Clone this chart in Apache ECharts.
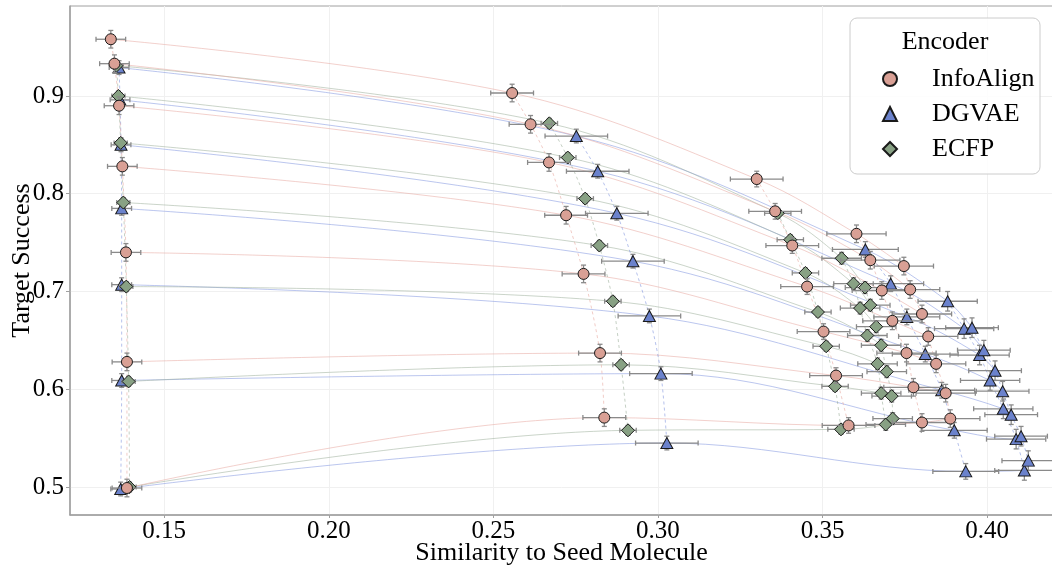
<!DOCTYPE html>
<html>
<head>
<meta charset="utf-8">
<script src="https://cdn.jsdelivr.net/npm/echarts@6/dist/echarts.min.js"></script>
<style>
  html, body { margin: 0; padding: 0; background: #fff; }
  #chart { width: 1052px; height: 567px; }
</style>
</head>
<body>
<div id="chart"></div>
<script>
// one row per optimisation step, one column per target level
const infoAlignX = [
  [0.1338, 0.1349, 0.1363, 0.1373, 0.1384, 0.1387, 0.1387],
  [0.2557, 0.2613, 0.2669, 0.2721, 0.2774, 0.2824, 0.2837],
  [0.3300, 0.3356, 0.3408, 0.3453, 0.3503, 0.3541, 0.3579],
  [0.3603, 0.3645, 0.3680, 0.3712, 0.3755, 0.3776, 0.3802],
  [0.3747, 0.3766, 0.3802, 0.3821, 0.3845, 0.3874, 0.3888]
];
const infoAlignY = [
  [0.958, 0.933, 0.890, 0.828, 0.740, 0.628, 0.499],
  [0.903, 0.871, 0.832, 0.778, 0.718, 0.637, 0.571],
  [0.815, 0.782, 0.747, 0.705, 0.659, 0.614, 0.563],
  [0.759, 0.732, 0.701, 0.670, 0.637, 0.602, 0.566],
  [0.726, 0.702, 0.677, 0.654, 0.626, 0.596, 0.570]
];
const dgvaeX = [
  [0.1363, 0.1366, 0.1369, 0.1371, 0.1371, 0.1371, 0.1368],
  [0.2752, 0.2817, 0.2875, 0.2924, 0.2974, 0.3009, 0.3027],
  [0.3630, 0.3707, 0.3756, 0.3812, 0.3862, 0.3900, 0.3935],
  [0.3880, 0.3930, 0.3977, 0.4009, 0.4049, 0.4088, 0.4113],
  [0.3954, 0.3990, 0.4024, 0.4047, 0.4073, 0.4103, 0.4125]
];
const dgvaeY = [
  [0.929, 0.896, 0.850, 0.785, 0.707, 0.609, 0.498],
  [0.859, 0.823, 0.780, 0.731, 0.675, 0.616, 0.545],
  [0.743, 0.708, 0.674, 0.636, 0.599, 0.558, 0.516],
  [0.690, 0.662, 0.635, 0.609, 0.580, 0.549, 0.517],
  [0.663, 0.640, 0.619, 0.598, 0.574, 0.552, 0.527]
];
const ecfpX = [
  [0.1355, 0.1361, 0.1368, 0.1376, 0.1385, 0.1392, 0.1395],
  [0.2670, 0.2726, 0.2779, 0.2822, 0.2863, 0.2888, 0.2909],
  [0.3364, 0.3402, 0.3448, 0.3486, 0.3511, 0.3538, 0.3556],
  [0.3558, 0.3594, 0.3614, 0.3636, 0.3667, 0.3678, 0.3692],
  [0.3629, 0.3645, 0.3663, 0.3678, 0.3695, 0.3710, 0.3713]
];
const ecfpY = [
  [0.931, 0.900, 0.852, 0.791, 0.705, 0.608, 0.500],
  [0.872, 0.837, 0.795, 0.747, 0.690, 0.625, 0.558],
  [0.780, 0.753, 0.719, 0.679, 0.644, 0.603, 0.559],
  [0.734, 0.708, 0.683, 0.655, 0.626, 0.596, 0.564],
  [0.704, 0.686, 0.664, 0.645, 0.618, 0.593, 0.570]
];
// error half-widths per step
const infoAlignXErr = [0.0045, 0.0065, 0.008, 0.009, 0.009];
const infoAlignYErr = [0.009, 0.009, 0.008, 0.009, 0.009];
const dgvaeXErr = [0.003, 0.0095, 0.010, 0.009, 0.008];
const dgvaeYErr = [0.007, 0.007, 0.008, 0.010, 0.010];
const ecfpXErr = [0.002, 0.0025, 0.004, 0.006, 0.006];
const ecfpYErr = [0.005, 0.005, 0.005, 0.006, 0.006];

const xTicks = [0.15, 0.20, 0.25, 0.30, 0.35, 0.40];
const yTicks = [0.5, 0.6, 0.7, 0.8, 0.9];

const font = "'Liberation Serif', 'DejaVu Serif', serif";

const encoders = [
  // drawn bottom to top
  { name: "DGVAE", xs: dgvaeX, ys: dgvaeY, ex: dgvaeXErr, ey: dgvaeYErr,
    color: "#6b82cc", line: "#8498e0", symbol: "triangle", size: [12, 11] },
  { name: "ECFP", xs: ecfpX, ys: ecfpY, ex: ecfpXErr, ey: ecfpYErr,
    color: "#88a184", line: "#9fb09c", symbol: "diamond", size: 13 },
  { name: "InfoAlign", xs: infoAlignX, ys: infoAlignY, ex: infoAlignXErr, ey: infoAlignYErr,
    color: "#d9a095", line: "#e8aaa2", symbol: "circle", size: 11 }
];

function errorBarItem(params, api) {
  const x = api.value(0), y = api.value(1), ex = api.value(2), ey = api.value(3);
  const l = api.coord([x - ex, y]);
  const r = api.coord([x + ex, y]);
  const t = api.coord([x, y + ey]);
  const b = api.coord([x, y - ey]);
  const cap = 2.5;
  const style = { stroke: "#8a8a8a", lineWidth: 1.3 };
  const seg = (x1, y1, x2, y2) => ({ type: "line", shape: { x1, y1, x2, y2 }, style });
  return {
    type: "group",
    children: [
      seg(l[0], l[1], r[0], r[1]),
      seg(l[0], l[1] - cap, l[0], l[1] + cap),
      seg(r[0], r[1] - cap, r[0], r[1] + cap),
      seg(t[0], t[1], b[0], b[1]),
      seg(t[0] - cap, t[1], t[0] + cap, t[1]),
      seg(b[0] - cap, b[1], b[0] + cap, b[1])
    ]
  };
}

const series = [];
encoders.forEach((enc, ei) => {
  const nSteps = enc.xs.length, nLevels = enc.xs[0].length;
  // faint curves: same level across steps
  for (let l = 0; l < nLevels; l++) {
    series.push({
      type: "line", silent: true, smooth: 0.35, symbol: "none", z: 1,
      data: enc.xs.map((row, s) => [row[l], enc.ys[s][l]]),
      lineStyle: { color: enc.line, width: 1, opacity: 0.55 }
    });
  }
  // dashed: same step across levels
  for (let s = 0; s < nSteps; s++) {
    series.push({
      type: "line", silent: true, smooth: 0.3, symbol: "none", z: 2,
      data: enc.xs[s].map((x, l) => [x, enc.ys[s][l]]),
      lineStyle: { color: enc.line, width: 1, type: [3, 3], opacity: 0.6 }
    });
  }
  const pts = [], errs = [];
  for (let s = 0; s < nSteps; s++) {
    for (let l = 0; l < nLevels; l++) {
      pts.push([enc.xs[s][l], enc.ys[s][l]]);
      errs.push([enc.xs[s][l], enc.ys[s][l], enc.ex[s], enc.ey[s]]);
    }
  }
  series.push({
    type: "custom", silent: true, z: 3 + ei * 2,
    renderItem: errorBarItem,
    encode: { x: 0, y: 1 },
    data: errs
  });
  series.push({
    name: enc.name, type: "scatter", z: 4 + ei * 2,
    symbol: enc.symbol, symbolSize: enc.size,
    itemStyle: { color: enc.color, borderColor: "#1a1a1a", borderWidth: 1, opacity: 1 },
    data: pts
  });
});

const chart = echarts.init(document.getElementById("chart"), null, { renderer: "canvas" });
chart.setOption({
  animation: false,
  backgroundColor: "#fff",
  grid: {
    left: 70, right: -1, top: 6, bottom: 52,
    containLabel: false, outerBoundsMode: "none",
    show: true, borderColor: "#a0a0a0", borderWidth: 1
  },
  xAxis: {
    type: "value", min: 0.1214, max: 0.4200,
    name: "Similarity to Seed Molecule", nameLocation: "middle", nameGap: 25,
    nameMoveOverlap: false,
    nameTextStyle: { fontFamily: font, fontSize: 26, color: "#000" },
    axisLine: { show: true, lineStyle: { color: "#a0a0a0", width: 1.5 } },
    axisTick: { show: true, customValues: xTicks, length: 3, lineStyle: { color: "#a0a0a0" } },
    axisLabel: { customValues: xTicks, margin: 4, fontFamily: font, fontSize: 25, color: "#000",
      formatter: v => v.toFixed(2) },
    splitLine: { show: true, lineStyle: { color: "#f0f0f0", width: 1 } }
  },
  yAxis: {
    type: "value", min: 0.4714, max: 0.992,
    name: "Target Success", nameLocation: "middle", nameGap: 35,
    nameMoveOverlap: false,
    nameTextStyle: { fontFamily: font, fontSize: 26, color: "#000" },
    axisLine: { show: true, lineStyle: { color: "#a0a0a0", width: 1.5 } },
    axisTick: { show: true, customValues: yTicks, length: 4, lineStyle: { color: "#a0a0a0" } },
    axisLabel: { customValues: yTicks, margin: 6, fontFamily: font, fontSize: 25, color: "#000",
      formatter: v => v.toFixed(1) },
    splitLine: { show: true, lineStyle: { color: "#f0f0f0", width: 1 } }
  },
  legend: {
    data: ["InfoAlign", "DGVAE", "ECFP"],
    orient: "vertical", left: 877, top: 61,
    itemWidth: 14, itemHeight: 14, itemGap: 9,
    textStyle: { fontFamily: font, fontSize: 26, color: "#000", padding: [0, 0, 0, 30] },
    z: 20
  },
  graphic: [
    { type: "rect", z: 10, shape: { x: 850, y: 18, width: 190, height: 156, r: 7 },
      style: { fill: "rgba(255,255,255,0.85)", stroke: "#cccccc", lineWidth: 1 } },
    { type: "text", z: 21, x: 945, y: 42,
      style: { text: "Encoder", font: "26px " + font, fill: "#000", align: "center", verticalAlign: "middle" } }
  ],
  series: series
});
</script>
</body>
</html>
